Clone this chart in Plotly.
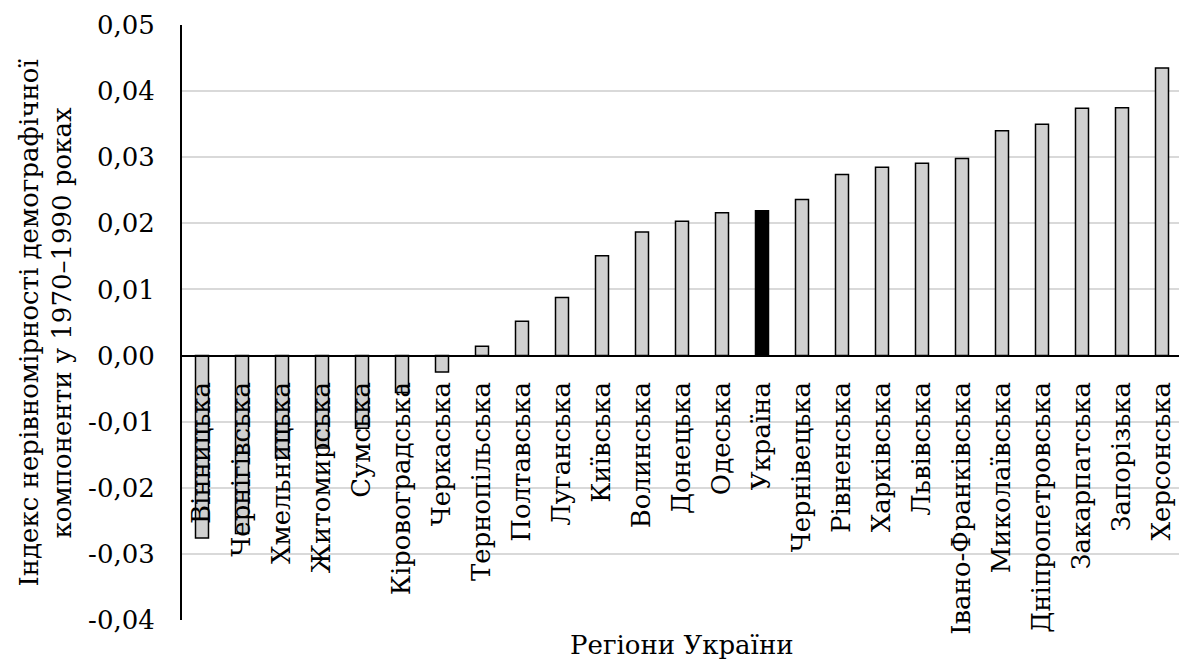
import plotly.graph_objects as go

regions = ["Вінницька", "Чернігівська", "Хмельницька", "Житомирська", "Сумська",
           "Кіровоградська", "Черкаська", "Тернопільська", "Полтавська", "Луганська",
           "Київська", "Волинська", "Донецька", "Одеська", "Україна", "Чернівецька",
           "Рівненська", "Харківська", "Львівська", "Івано-Франківська", "Миколаївська",
           "Дніпропетровська", "Закарпатська", "Запорізька", "Херсонська"]
values = [-0.0276, -0.0269, -0.0155, -0.0140, -0.0110,
          -0.0056, -0.0025, 0.0014, 0.0052, 0.0088,
          0.0151, 0.0187, 0.0203, 0.0216, 0.0219, 0.0236,
          0.0274, 0.0285, 0.0291, 0.0298, 0.0340,
          0.0350, 0.0374, 0.0375, 0.0435]
y_tickvals = [0.05, 0.04, 0.03, 0.02, 0.01, 0.0, -0.01, -0.02, -0.03, -0.04]
y_ticktext = ["0,05", "0,04", "0,03", "0,02", "0,01", "0,00", "-0,01", "-0,02", "-0,03", "-0,04"]
highlight = "Україна"

FONT = "DejaVu Serif"
colors = ["#000000" if r == highlight else "#d0d0d0" for r in regions]

fig = go.Figure(go.Bar(
    x=regions, y=values,
    marker=dict(color=colors, line=dict(color="#000000", width=1.5)),
))

ymin, ymax = -0.04, 0.05
fig.update_layout(
    width=1187, height=660,
    margin=dict(l=174, r=13, t=17, b=48),
    paper_bgcolor="white", plot_bgcolor="white",
    font=dict(family=FONT, size=26, color="#000000"),
    bargap=0.675,
    showlegend=False,
)
fig.update_yaxes(
    range=[ymin, ymax], tickvals=y_tickvals, ticktext=y_ticktext,
    showgrid=True, gridcolor="#d9d9d9", gridwidth=1.5,
    showline=True, linecolor="#000000", linewidth=2,
    zeroline=False, ticks="", ticklabelstandoff=20,
    automargin=False,
)
fig.update_xaxes(
    type="category", anchor="free", position=(0 - ymin) / (ymax - ymin),
    showline=True, linecolor="#000000", linewidth=2,
    showgrid=False, ticks="", tickangle=-90, ticklabelstandoff=15,
    automargin=False,
)
fig.add_annotation(
    text="Індекс нерівномірності демографічної<br>компоненти у 1970–1990 роках",
    xref="paper", yref="paper", x=-0.137, y=0.5, textangle=-90,
    xanchor="center", yanchor="middle", showarrow=False,
    font=dict(family=FONT, size=26, color="#000000"),
)
fig.add_annotation(
    text="Регіони України",
    xref="paper", yref="paper", x=0.5, y=-0.042,
    xanchor="center", yanchor="middle", showarrow=False,
    font=dict(family=FONT, size=26, color="#000000"),
)
fig.write_html("out.html")
